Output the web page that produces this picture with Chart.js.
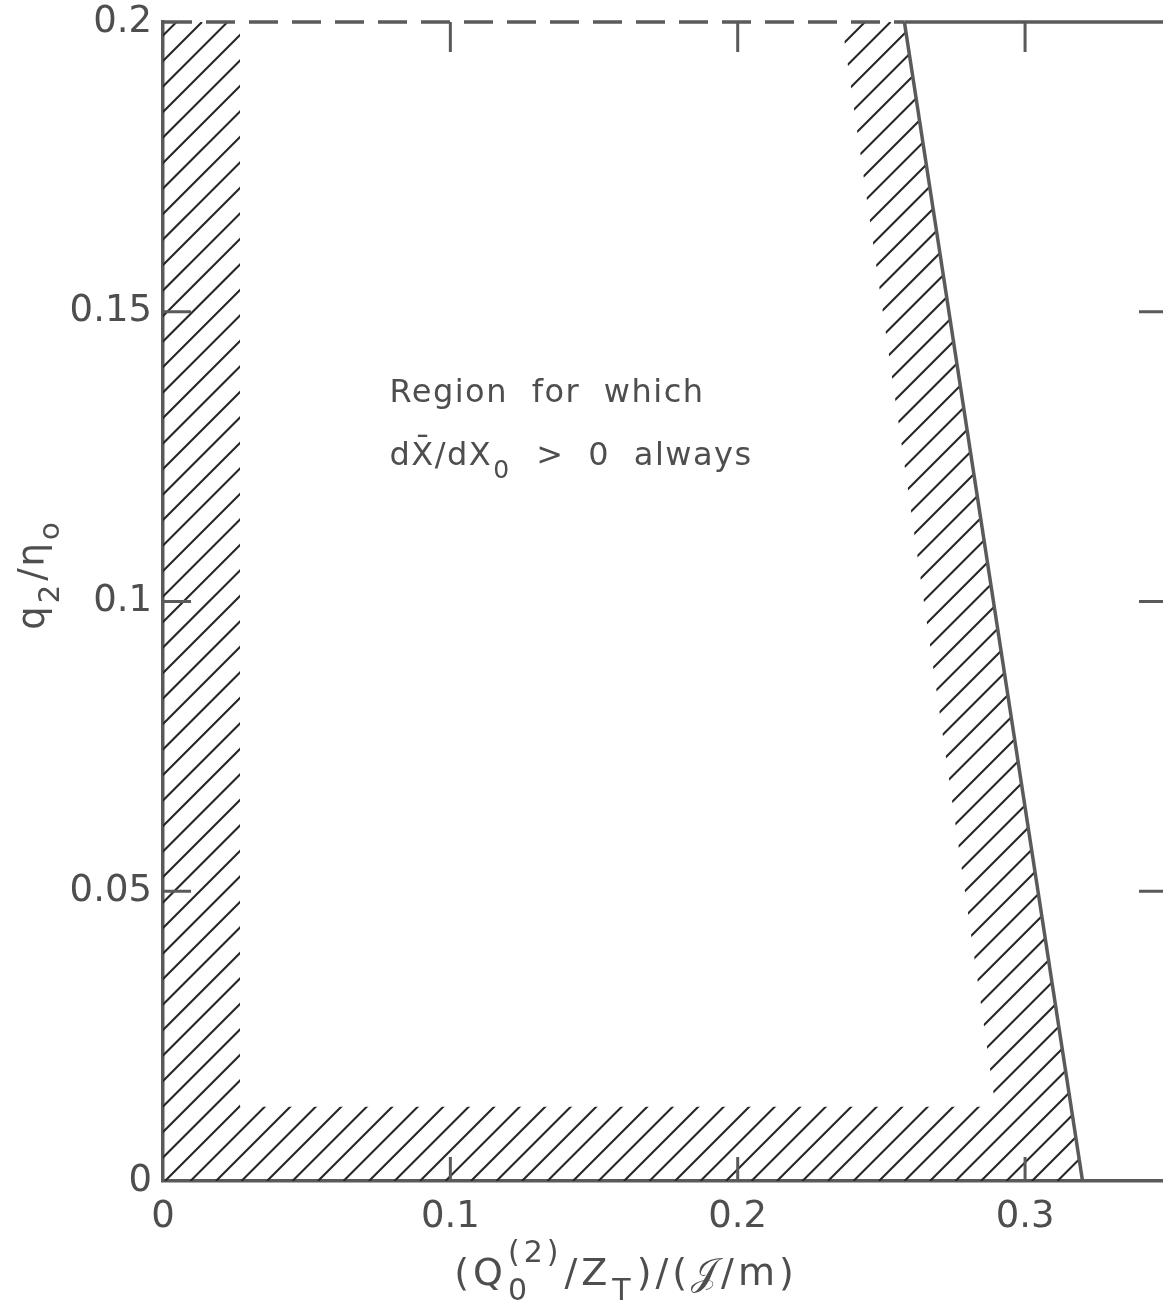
<!DOCTYPE html>
<html>
<head>
<meta charset="utf-8">
<title>Region for which dX/dX0 > 0 always</title>
<script src="https://cdn.jsdelivr.net/npm/chart.js@4.4.1/dist/chart.umd.min.js"></script>
<style>
  html, body { margin: 0; padding: 0; background: #ffffff; }
  canvas { display: block; }
</style>
</head>
<body>
<canvas id="chart" width="1163" height="1313"></canvas>
<script>
// ---- axis ticks and their printed labels ----
const xTicks = [0, 0.1, 0.2, 0.3];
const xTickLabels = ['0', '0.1', '0.2', '0.3'];
const yTicks = [0, 0.05, 0.1, 0.15, 0.2];
const yTickLabels = ['0', '0.05', '0.1', '0.15', '0.2'];

// short inward marks on the frame
const frameXTicks = [0.1, 0.2, 0.3];
const frameYTicks = [0.05, 0.1, 0.15];

// axis ranges
const xRange = [0, 0.348];
const yRange = [0, 0.2];

// boundary of the region: dashed upper edge, solid upper edge, sloping limit
const dashedTopX = [0, 0.258];
const dashedTopY = [0.2, 0.2];
const solidTopX = [0.258, 0.348];
const solidTopY = [0.2, 0.2];
const slopeX = [0.258, 0.32];
const slopeY = [0.2, 0];

// hatched band = outer polygon minus inner polygon
const hatchOuterX = [0, 0, 0.258, 0.32];
const hatchOuterY = [0, 0.2, 0.2, 0];
const hatchInnerX = [0.0268, 0.0268, 0.2362, 0.2897];
const hatchInnerY = [0.0128, 0.2, 0.2, 0.0128];

// ---- styling ----
const FAMILY = '"DejaVu Sans", "Liberation Sans", sans-serif';
const INK = '#5a5a5a';
const TEXT = '#4e4e4e';
const HATCH = '#262626';

const pts = (xs, ys) => xs.map((x, i) => ({ x, y: ys[i] }));

// draws a run of text pieces; objects carry stacked sub/superscripts
function drawRich(ctx, parts, x, y, size, align, scriptScale = 0.72) {
  const small = Math.round(size * scriptScale);
  const big = `${size}px ${FAMILY}`;
  const sm = `${small}px ${FAMILY}`;
  const items = [];
  let w = 0;
  for (const p of parts) {
    if (typeof p === 'string') {
      ctx.font = big;
      items.push({ t: p, f: big, dx: w, dy: 0 });
      w += ctx.measureText(p).width;
    } else {
      ctx.font = sm;
      let mw = 0;
      if (p.sub) {
        items.push({ t: p.sub, f: sm, dx: w + 1, dy: size * 0.4 });
        mw = Math.max(mw, ctx.measureText(p.sub).width);
      }
      if (p.sup) {
        items.push({ t: p.sup, f: sm, dx: w + 1, dy: -size * 0.6 });
        mw = Math.max(mw, ctx.measureText(p.sup).width);
      }
      w += mw + 3;
    }
  }
  const x0 = align === 'center' ? x - w / 2 : x;
  ctx.textAlign = 'left';
  ctx.textBaseline = 'alphabetic';
  for (const it of items) {
    ctx.font = it.f;
    ctx.fillText(it.t, x0 + it.dx, y + it.dy);
  }
}

// diagonal hatching of the band between the two polygons
const hatchPlugin = {
  id: 'hatchBand',
  beforeDatasetsDraw(chart) {
    const { ctx, chartArea, scales: { x, y } } = chart;
    ctx.save();
    ctx.beginPath();
    hatchOuterX.forEach((v, i) => {
      const px = x.getPixelForValue(v), py = y.getPixelForValue(hatchOuterY[i]);
      i ? ctx.lineTo(px, py) : ctx.moveTo(px, py);
    });
    ctx.closePath();
    hatchInnerX.forEach((v, i) => {
      const px = x.getPixelForValue(v), py = y.getPixelForValue(hatchInnerY[i]);
      i ? ctx.lineTo(px, py) : ctx.moveTo(px, py);
    });
    ctx.closePath();
    ctx.clip('evenodd');
    ctx.strokeStyle = HATCH;
    ctx.lineWidth = 2.1;
    const step = 25.5;
    const { left, right, top, bottom } = chartArea;
    const phase = 20;
    let c = left + top - ((left + top) % step) + phase - step;
    ctx.beginPath();
    for (; c <= right + bottom + step; c += step) {
      ctx.moveTo(c - bottom, bottom);
      ctx.lineTo(c - top, top);
    }
    ctx.stroke();
    ctx.restore();
  }
};

// inward tick marks, axis titles and the region note
const framePlugin = {
  id: 'frameMarks',
  afterDatasetsDraw(chart) {
    const { ctx, chartArea: { left, right, top, bottom }, scales: { x, y } } = chart;
    ctx.save();
    ctx.strokeStyle = INK;
    ctx.lineWidth = 3;
    ctx.lineCap = 'butt';
    ctx.beginPath();
    for (const v of frameYTicks) {
      const py = y.getPixelForValue(v);
      ctx.moveTo(left, py); ctx.lineTo(left + 28, py);
      ctx.moveTo(right - 24, py); ctx.lineTo(right, py);
    }
    for (const v of frameXTicks) {
      const px = x.getPixelForValue(v);
      ctx.moveTo(px, bottom); ctx.lineTo(px, bottom - 24);
      ctx.moveTo(px, top); ctx.lineTo(px, top + 30);
    }
    ctx.stroke();

    ctx.fillStyle = TEXT;
    ctx.letterSpacing = '4px';
    // x axis title
    drawRich(ctx, ['(Q', { sub: '0', sup: '(2)' }, '/Z', { sub: 'T' }, ')/(\u{1D4A5}/m)'],
      626, 1285, 38, 'center', 0.8);
    // y axis title (rotated)
    ctx.save();
    ctx.letterSpacing = '2px';
    ctx.translate(44, 574);
    ctx.rotate(-Math.PI / 2);
    drawRich(ctx, ['q', { sub: '2' }, '/\u03B7', { sub: 'o' }], 0, 0, 37, 'center', 0.78);
    ctx.restore();

    // note inside the region
    const nx = x.getPixelForValue(0.0788);
    ctx.letterSpacing = '1.5px';
    ctx.wordSpacing = '12px';
    drawRich(ctx, ['Region for which'], nx, y.getPixelForValue(0.1344), 32, 'left');
    drawRich(ctx, ['dX\u0304/dX', { sub: '0' }, ' > 0 always'], nx, y.getPixelForValue(0.1236), 32, 'left', 0.78);
    ctx.restore();
  }
};

const lineStyle = {
  showLine: true,
  pointRadius: 0,
  borderColor: INK,
  borderWidth: 3.5,
  fill: false,
  clip: false
};

new Chart(document.getElementById('chart'), {
  type: 'scatter',
  data: {
    datasets: [
      { ...lineStyle, label: 'upper limit (dashed)', data: pts(dashedTopX, dashedTopY), borderDash: [29, 14] },
      { ...lineStyle, label: 'upper limit', data: pts(solidTopX, solidTopY) },
      { ...lineStyle, label: 'sloping limit', data: pts(slopeX, slopeY) }
    ]
  },
  options: {
    responsive: false,
    devicePixelRatio: 1,
    animation: false,
    events: [],
    layout: { padding: { top: 22, right: 0, left: 0, bottom: 0 } },
    plugins: { legend: { display: false }, tooltip: { enabled: false }, title: { display: false } },
    scales: {
      x: {
        type: 'linear',
        position: 'bottom',
        min: xRange[0],
        max: xRange[1],
        afterFit: s => { s.height = 132; s.paddingLeft = 0; s.paddingRight = 0; },
        afterBuildTicks: s => { s.ticks = xTicks.map(v => ({ value: v })); },
        ticks: {
          autoSkip: false,
          maxRotation: 0,
          padding: 14,
          color: TEXT,
          font: { family: FAMILY, size: 37 },
          callback: v => xTickLabels[xTicks.indexOf(v)]
        },
        grid: { display: false, drawTicks: false },
        border: { display: true, color: INK, width: 3.5 }
      },
      y: {
        type: 'linear',
        position: 'left',
        min: yRange[0],
        max: yRange[1],
        afterFit: s => { s.width = 163; s.paddingTop = 0; s.paddingBottom = 0; },
        afterBuildTicks: s => { s.ticks = yTicks.map(v => ({ value: v })); },
        ticks: {
          autoSkip: false,
          padding: 11,
          color: TEXT,
          font: { family: FAMILY, size: 37 },
          callback: v => yTickLabels[yTicks.indexOf(v)]
        },
        grid: { display: false, drawTicks: false },
        border: { display: true, color: INK, width: 3.5 }
      }
    }
  },
  plugins: [hatchPlugin, framePlugin]
});
</script>
</body>
</html>
